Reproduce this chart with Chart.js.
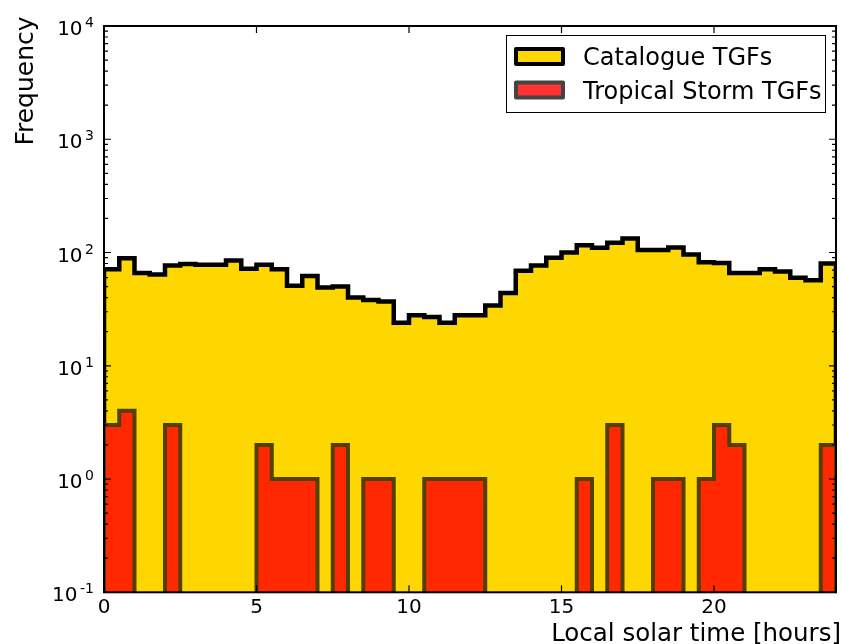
<!DOCTYPE html>
<html>
<head>
<meta charset="utf-8">
<script src="https://cdn.jsdelivr.net/npm/chart.js@4.4.1/dist/chart.umd.min.js"></script>
<style>
  html, body { margin: 0; padding: 0; background: #ffffff; }
  #wrap { width: 842px; height: 644px; }
</style>
</head>
<body>
<div id="wrap"><canvas id="chart" width="842" height="644"></canvas></div>
<script>
// Half-hour bins of local solar time
const binWidthHours = 0.5;
const catalogueCounts = [
  71, 89, 66, 64, 77, 79, 78, 78, 85, 72, 78, 71,
  51, 62, 49, 50, 40, 38, 37, 24, 28, 27, 24, 28,
  28, 34, 44, 69, 77, 90, 100, 116, 110, 122, 133, 105,
  105, 111, 96, 82, 81, 66, 66, 71, 68, 60, 57, 80
];
const stormCounts = [
  3, 4, 0, 0, 3, 0, 0, 0, 0, 0, 2, 1,
  1, 1, 0, 2, 0, 1, 1, 0, 0, 1, 1, 1,
  1, 0, 0, 0, 0, 0, 0, 1, 0, 3, 0, 0,
  1, 1, 0, 1, 3, 2, 0, 0, 0, 0, 0, 2
];
const seriesNames = ['Catalogue TGFs', 'Tropical Storm TGFs'];
const xTickValues = [0, 5, 10, 15, 20];
const yDecadeExponents = [-1, 0, 1, 2, 3, 4];
const xLimits = [0, 24];
const yLimits = [0.1, 10000];
const xTitle = 'Local solar time [hours]';
const yTitle = 'Frequency';

// Empty bins sit below the log axis so the outline drops out of view
const belowAxis = 0.001;
function stepOutline(counts) {
  const pts = [{ x: 0, y: belowAxis }];
  counts.forEach((c, i) => {
    const v = c > 0 ? c : belowAxis;
    pts.push({ x: i * binWidthHours, y: v });
    pts.push({ x: (i + 1) * binWidthHours, y: v });
  });
  pts.push({ x: counts.length * binWidthHours, y: belowAxis });
  return pts;
}

const FONT = "'DejaVu Sans', 'Liberation Sans', sans-serif";

const frameAndLabels = {
  id: 'frameAndLabels',
  afterDatasetsDraw(chart) {
    const ctx = chart.ctx;
    const a = chart.chartArea;
    const xs = chart.scales.x, ys = chart.scales.y;
    ctx.save();

    // axes frame
    ctx.strokeStyle = '#000';
    ctx.lineWidth = 2;
    ctx.strokeRect(a.left, a.top, a.right - a.left, a.bottom - a.top);

    // inward ticks
    ctx.lineWidth = 1.2;
    ctx.beginPath();
    const majorLen = 7, minorLen = 4;
    xTickValues.forEach(v => {
      const px = xs.getPixelForValue(v);
      ctx.moveTo(px, a.bottom); ctx.lineTo(px, a.bottom - majorLen);
      ctx.moveTo(px, a.top); ctx.lineTo(px, a.top + majorLen);
    });
    yDecadeExponents.forEach((e, k) => {
      const py = ys.getPixelForValue(Math.pow(10, e));
      ctx.moveTo(a.left, py); ctx.lineTo(a.left + majorLen, py);
      ctx.moveTo(a.right, py); ctx.lineTo(a.right - majorLen, py);
      if (k < yDecadeExponents.length - 1) {
        for (let m = 2; m <= 9; m++) {
          const pm = ys.getPixelForValue(m * Math.pow(10, e));
          ctx.moveTo(a.left, pm); ctx.lineTo(a.left + minorLen, pm);
          ctx.moveTo(a.right, pm); ctx.lineTo(a.right - minorLen, pm);
        }
      }
    });
    ctx.stroke();

    // x tick labels
    ctx.fillStyle = '#000';
    ctx.font = '20px ' + FONT;
    ctx.textAlign = 'center';
    ctx.textBaseline = 'alphabetic';
    xTickValues.forEach(v => {
      ctx.fillText(String(v), xs.getPixelForValue(v), 613);
    });

    // y tick labels: 10 with a raised exponent
    const rightEdge = 94;
    yDecadeExponents.forEach(e => {
      const py = ys.getPixelForValue(Math.pow(10, e));
      ctx.font = '14px ' + FONT;
      const expText = String(e);
      const wExp = ctx.measureText(expText).width;
      ctx.font = '20px ' + FONT;
      const wBase = ctx.measureText('10').width;
      const x0 = rightEdge - wExp - 2.5 - wBase;
      ctx.textAlign = 'left';
      ctx.fillText('10', x0, py + 9);
      ctx.font = '14px ' + FONT;
      ctx.fillText(expText, x0 + wBase + 2.5, py + 1);
    });

    // axis titles
    ctx.font = '24.5px ' + FONT;
    ctx.textAlign = 'right';
    ctx.fillText(xTitle, 841, 641);
    ctx.save();
    ctx.translate(33, 81);
    ctx.rotate(-Math.PI / 2);
    ctx.textAlign = 'center';
    ctx.font = '25px ' + FONT;
    ctx.fillText(yTitle, 0, 0);
    ctx.restore();

    // legend
    ctx.fillStyle = '#fff';
    ctx.fillRect(506, 35, 320, 77);
    ctx.strokeStyle = '#000';
    ctx.lineWidth = 1;
    ctx.strokeRect(506.5, 35.5, 319, 77);
    const entries = [
      { fill: '#FFD700', edge: '#000000', cy: 56.5, base: 65 },
      { fill: '#FF3333', edge: '#444444', cy: 90, base: 98.5 }
    ];
    entries.forEach((en, i) => {
      ctx.lineWidth = 4;
      ctx.lineJoin = 'round';
      ctx.fillStyle = en.fill;
      ctx.strokeStyle = en.edge;
      ctx.fillRect(516, en.cy - 7.5, 47, 15);
      ctx.strokeRect(516, en.cy - 7.5, 47, 15);
      ctx.fillStyle = '#000';
      ctx.font = '24px ' + FONT;
      ctx.textAlign = 'left';
      ctx.fillText(seriesNames[i], 583, en.base);
    });

    ctx.restore();
  }
};

new Chart(document.getElementById('chart'), {
  type: 'line',
  data: {
    datasets: [
      {
        label: seriesNames[1],
        data: stepOutline(stormCounts),
        backgroundColor: '#FF2800',
        borderColor: '#514000',
        borderWidth: 4,
        borderJoinStyle: 'miter',
        fill: 'start',
        pointRadius: 0,
        tension: 0,
        clip: 0,
        order: 0
      },
      {
        label: seriesNames[0],
        data: stepOutline(catalogueCounts),
        backgroundColor: '#FFD700',
        borderColor: '#000000',
        borderWidth: 4.5,
        borderJoinStyle: 'miter',
        fill: 'start',
        pointRadius: 0,
        tension: 0,
        clip: 0,
        order: 1
      }
    ]
  },
  options: {
    responsive: false,
    animation: false,
    devicePixelRatio: 1,
    layout: { padding: { left: 104, right: 6, top: 26, bottom: 51.7 } },
    scales: {
      x: { type: 'linear', min: xLimits[0], max: xLimits[1], display: false },
      y: { type: 'logarithmic', min: yLimits[0], max: yLimits[1], display: false }
    },
    plugins: {
      legend: { display: false },
      tooltip: { enabled: false }
    },
    elements: { line: { capBezierPoints: false } }
  },
  plugins: [frameAndLabels]
});
</script>
</body>
</html>
